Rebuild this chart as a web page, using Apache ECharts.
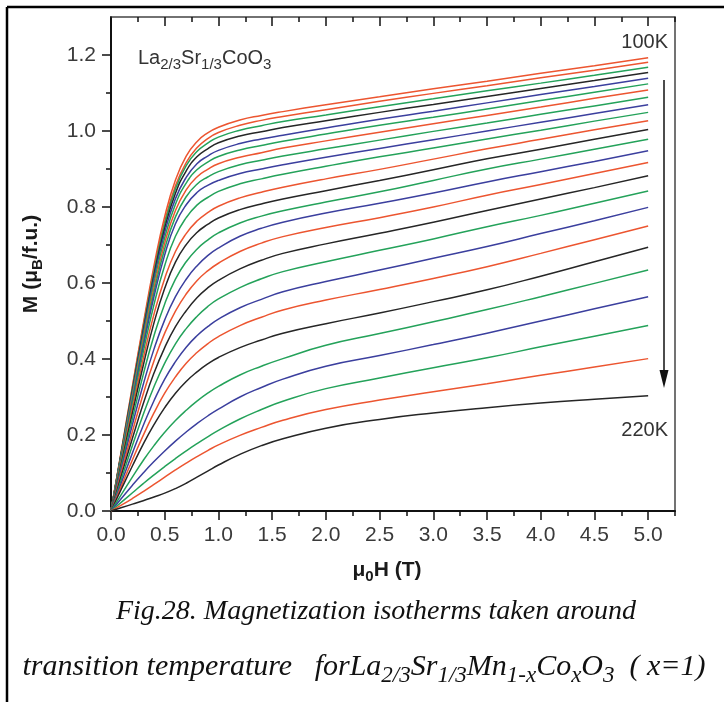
<!DOCTYPE html>
<html>
<head>
<meta charset="utf-8">
<script src="https://cdn.jsdelivr.net/npm/echarts@6/dist/echarts.min.js"></script>
<style>
  html, body { margin: 0; padding: 0; background: #ffffff; }
  #chart { width: 724px; height: 702px; }
</style>
</head>
<body>
<div id="chart"></div>
<script>
// Applied field mu0H (T) at which every isotherm is sampled
const fieldT = [0, 0.1, 0.2, 0.3, 0.4, 0.5, 0.6, 0.7, 0.8, 0.9, 1.0, 1.2, 1.4, 1.6, 2.0, 2.5, 3.0, 3.5, 4.0, 4.5, 5.0];

// Magnetization M (muB/f.u.) for each isotherm, 100 K to 220 K in 5 K steps
const m100K = [0, 0.165, 0.330, 0.492, 0.645, 0.775, 0.871, 0.934, 0.972, 0.995, 1.010, 1.029, 1.041, 1.051, 1.069, 1.090, 1.111, 1.131, 1.152, 1.172, 1.193];
const m105K = [0, 0.163, 0.326, 0.486, 0.635, 0.762, 0.856, 0.917, 0.956, 0.980, 0.996, 1.015, 1.028, 1.038, 1.056, 1.078, 1.099, 1.119, 1.140, 1.160, 1.181];
const m110K = [0, 0.161, 0.322, 0.480, 0.628, 0.755, 0.848, 0.909, 0.946, 0.968, 0.984, 1.002, 1.014, 1.025, 1.042, 1.064, 1.085, 1.106, 1.126, 1.147, 1.168];
const m115K = [0, 0.159, 0.318, 0.474, 0.620, 0.744, 0.836, 0.895, 0.932, 0.953, 0.969, 0.987, 0.998, 1.009, 1.027, 1.049, 1.070, 1.091, 1.112, 1.133, 1.154];
const m120K = [0, 0.157, 0.314, 0.468, 0.612, 0.733, 0.822, 0.878, 0.914, 0.934, 0.949, 0.967, 0.979, 0.989, 1.008, 1.031, 1.052, 1.074, 1.096, 1.117, 1.139];
const m125K = [0, 0.154, 0.308, 0.459, 0.600, 0.719, 0.807, 0.863, 0.898, 0.918, 0.933, 0.950, 0.962, 0.973, 0.992, 1.015, 1.036, 1.058, 1.080, 1.102, 1.124];
const m130K = [0, 0.151, 0.302, 0.450, 0.588, 0.705, 0.791, 0.845, 0.879, 0.899, 0.914, 0.931, 0.943, 0.955, 0.974, 0.997, 1.019, 1.041, 1.063, 1.086, 1.108];
const m135K = [0, 0.148, 0.296, 0.441, 0.576, 0.690, 0.774, 0.827, 0.860, 0.879, 0.893, 0.911, 0.923, 0.934, 0.953, 0.976, 0.999, 1.021, 1.044, 1.066, 1.089];
const m140K = [0, 0.145, 0.290, 0.432, 0.564, 0.674, 0.756, 0.806, 0.838, 0.857, 0.870, 0.888, 0.900, 0.911, 0.931, 0.954, 0.977, 1.000, 1.023, 1.046, 1.069];
const m145K = [0, 0.141, 0.281, 0.418, 0.543, 0.646, 0.723, 0.772, 0.805, 0.825, 0.841, 0.861, 0.874, 0.886, 0.907, 0.932, 0.955, 0.979, 1.002, 1.026, 1.049];
const m150K = [0, 0.136, 0.271, 0.401, 0.518, 0.612, 0.683, 0.730, 0.763, 0.785, 0.802, 0.824, 0.839, 0.852, 0.874, 0.899, 0.926, 0.953, 0.978, 1.003, 1.027];
const m155K = [0, 0.130, 0.259, 0.383, 0.495, 0.586, 0.655, 0.701, 0.733, 0.754, 0.771, 0.793, 0.808, 0.821, 0.843, 0.870, 0.898, 0.927, 0.952, 0.978, 1.004];
const m160K = [0, 0.123, 0.244, 0.359, 0.461, 0.545, 0.610, 0.656, 0.689, 0.713, 0.732, 0.758, 0.776, 0.790, 0.813, 0.840, 0.870, 0.900, 0.926, 0.952, 0.978];
const m165K = [0, 0.115, 0.228, 0.333, 0.426, 0.503, 0.564, 0.610, 0.645, 0.672, 0.692, 0.723, 0.744, 0.760, 0.784, 0.810, 0.837, 0.866, 0.893, 0.920, 0.948];
const m170K = [0, 0.106, 0.210, 0.308, 0.395, 0.468, 0.526, 0.571, 0.606, 0.632, 0.652, 0.683, 0.705, 0.722, 0.746, 0.772, 0.800, 0.831, 0.859, 0.888, 0.917];
const m175K = [0, 0.097, 0.192, 0.282, 0.363, 0.430, 0.485, 0.527, 0.561, 0.587, 0.607, 0.637, 0.660, 0.678, 0.703, 0.731, 0.760, 0.791, 0.821, 0.851, 0.882];
const m180K = [0, 0.087, 0.173, 0.254, 0.327, 0.389, 0.440, 0.480, 0.512, 0.538, 0.558, 0.588, 0.611, 0.630, 0.656, 0.686, 0.716, 0.748, 0.778, 0.810, 0.842];
const m185K = [0, 0.077, 0.153, 0.225, 0.290, 0.347, 0.393, 0.431, 0.461, 0.485, 0.505, 0.535, 0.557, 0.577, 0.604, 0.634, 0.665, 0.696, 0.730, 0.764, 0.799];
const m190K = [0, 0.068, 0.135, 0.199, 0.258, 0.310, 0.353, 0.389, 0.417, 0.440, 0.459, 0.488, 0.510, 0.529, 0.555, 0.583, 0.612, 0.643, 0.678, 0.714, 0.750];
const m195K = [0, 0.060, 0.119, 0.176, 0.227, 0.272, 0.310, 0.341, 0.366, 0.387, 0.404, 0.430, 0.450, 0.468, 0.493, 0.521, 0.551, 0.582, 0.618, 0.656, 0.694];
const m200K = [0, 0.045, 0.090, 0.133, 0.172, 0.207, 0.238, 0.265, 0.289, 0.310, 0.328, 0.358, 0.381, 0.401, 0.436, 0.467, 0.498, 0.530, 0.564, 0.599, 0.634];
const m205K = [0, 0.034, 0.068, 0.100, 0.130, 0.158, 0.184, 0.208, 0.230, 0.250, 0.268, 0.300, 0.325, 0.347, 0.381, 0.409, 0.438, 0.468, 0.500, 0.532, 0.564];
const m210K = [0, 0.024, 0.048, 0.072, 0.095, 0.117, 0.138, 0.158, 0.177, 0.195, 0.212, 0.242, 0.267, 0.289, 0.322, 0.350, 0.377, 0.403, 0.432, 0.460, 0.488];
const m215K = [0, 0.016, 0.033, 0.051, 0.070, 0.089, 0.108, 0.126, 0.143, 0.159, 0.174, 0.199, 0.220, 0.239, 0.267, 0.292, 0.314, 0.335, 0.357, 0.379, 0.401];
const m220K = [0, 0.009, 0.018, 0.027, 0.037, 0.047, 0.059, 0.073, 0.089, 0.105, 0.121, 0.149, 0.172, 0.190, 0.218, 0.241, 0.258, 0.272, 0.284, 0.294, 0.303];

const temperaturesK = [100, 105, 110, 115, 120, 125, 130, 135, 140, 145, 150, 155, 160,
                       165, 170, 175, 180, 185, 190, 195, 200, 205, 210, 215, 220];
const isotherms = [m100K, m105K, m110K, m115K, m120K, m125K, m130K, m135K, m140K, m145K,
                   m150K, m155K, m160K, m165K, m170K, m175K, m180K, m185K, m190K, m195K,
                   m200K, m205K, m210K, m215K, m220K];

// Axis ticks
const xMajorTicks = [0, 0.5, 1.0, 1.5, 2.0, 2.5, 3.0, 3.5, 4.0, 4.5, 5.0];
const xMinorTicks = [0.25, 0.75, 1.25, 1.75, 2.25, 2.75, 3.25, 3.75, 4.25, 4.75, 5.25];
const yMajorTicks = [0, 0.2, 0.4, 0.6, 0.8, 1.0, 1.2];
const yMinorTicks = [0.1, 0.3, 0.5, 0.7, 0.9, 1.1];

// Line colours cycle through red / green / black / blue
const RED = '#EC5530', GREEN = '#24A25A', BLUE = '#3B3F9E', BLACK = '#262626';
const curveColors = [RED, RED, GREEN, BLACK, BLUE, GREEN, RED, GREEN, BLUE, GREEN,
                     RED, BLACK, GREEN, BLUE, RED, BLACK, GREEN, BLUE, RED, BLACK,
                     GREEN, BLUE, GREEN, RED, BLACK];

const X_MAX = 5.25, Y_MAX = 1.3;
const SANS = 'Liberation Sans, Arial, sans-serif';
const SERIF = 'Liberation Serif, Times New Roman, serif';

function frameAxis(kind, position, opts) {
  const base = {
    type: 'value',
    position: position,
    min: 0,
    max: kind === 'x' ? X_MAX : Y_MAX,
    axisLine: { show: false, onZero: false },
    axisTick: { show: false },
    axisLabel: { show: false },
    splitLine: { show: false }
  };
  return Object.assign(base, opts);
}

const tickStyle = { color: '#111', width: 1.5 };
const nameRich = {
  b: { fontSize: 21, fontWeight: 'bold', color: '#1a1a1a', fontFamily: SANS, lineHeight: 28 },
  s: { fontSize: 15, fontWeight: 'bold', color: '#1a1a1a', fontFamily: SANS, lineHeight: 13, verticalAlign: 'bottom' }
};

const xAxes = [
  frameAxis('x', 'bottom', {
    axisLine: { show: true, onZero: false, lineStyle: { color: '#111', width: 2 } },
    axisTick: { show: true, customValues: xMajorTicks, length: 9, lineStyle: tickStyle },
    axisLabel: {
      show: true, customValues: xMajorTicks, formatter: v => v.toFixed(1),
      fontSize: 21, color: '#3a3a3a', fontFamily: SANS, margin: 14
    },
    name: '{b|μ}{s|0}{b|H (T)}',
    nameLocation: 'middle',
    nameGap: 45,
    nameTextStyle: { rich: nameRich, padding: [0, 12, 0, 0] }
  }),
  frameAxis('x', 'bottom', {
    axisTick: { show: true, customValues: xMinorTicks, length: 5, lineStyle: tickStyle }
  }),
  frameAxis('x', 'top', {
    axisLine: { show: true, onZero: false, lineStyle: { color: '#444', width: 1.5 } },
    axisTick: { show: true, inside: true, customValues: xMajorTicks, length: 9, lineStyle: tickStyle }
  }),
  frameAxis('x', 'top', {
    axisTick: { show: true, inside: true, customValues: xMinorTicks, length: 5, lineStyle: tickStyle }
  })
];

const yAxes = [
  frameAxis('y', 'left', {
    axisLine: { show: true, onZero: false, lineStyle: { color: '#111', width: 2 } },
    axisTick: { show: true, customValues: yMajorTicks, length: 9, lineStyle: tickStyle },
    axisLabel: {
      show: true, customValues: yMajorTicks, formatter: v => v.toFixed(1),
      fontSize: 21, color: '#3a3a3a', fontFamily: SANS, margin: 15
    },
    name: '{b|M (μ}{s|B}{b|/f.u.)}',
    nameLocation: 'middle',
    nameRotate: 90,
    nameGap: 66,
    nameTextStyle: { rich: nameRich }
  }),
  frameAxis('y', 'left', {
    axisTick: { show: true, customValues: yMinorTicks, length: 5, lineStyle: tickStyle }
  }),
  frameAxis('y', 'right', {
    axisLine: { show: true, onZero: false, lineStyle: { color: '#444', width: 1.5 } }
  })
];

const series = isotherms.map((values, i) => ({
  name: temperaturesK[i] + ' K',
  type: 'line',
  xAxisIndex: 0,
  yAxisIndex: 0,
  showSymbol: false,
  smooth: 0.5,
  animation: false,
  lineStyle: { color: curveColors[i], width: 1.5 },
  data: fieldT.map((h, j) => [h, values[j]])
}));

const subRich = (size, subSize, font, style, color) => ({
  n: { fontSize: size, fontFamily: font, fontStyle: style, fill: color, lineHeight: Math.round(size * 1.35) },
  s: { fontSize: subSize, fontFamily: font, fontStyle: style, fill: color,
       lineHeight: Math.round(size * 0.6), verticalAlign: 'bottom' }
});

const graphic = [
  // figure border (top and left edges)
  { type: 'line', shape: { x1: 7, y1: 7, x2: 724, y2: 7 }, style: { stroke: '#000', lineWidth: 2.5 } },
  { type: 'line', shape: { x1: 7, y1: 7, x2: 7, y2: 702 }, style: { stroke: '#000', lineWidth: 2.5 } },
  // compound label
  {
    type: 'text', x: 138, y: 45,
    style: {
      legacy: false,
      text: '{n|La}{s|2/3}{n|Sr}{s|1/3}{n|CoO}{s|3}',
      rich: subRich(20, 15, SANS, 'normal', '#333'),
      align: 'left', verticalAlign: 'top'
    }
  },
  // temperature range labels
  { type: 'text', x: 668, y: 42,
    style: { legacy: false, text: '100K', fontSize: 20, fontFamily: SANS, fill: '#333', align: 'right', verticalAlign: 'middle' } },
  { type: 'text', x: 668, y: 430,
    style: { legacy: false, text: '220K', fontSize: 20, fontFamily: SANS, fill: '#333', align: 'right', verticalAlign: 'middle' } },
  // arrow pointing towards higher temperature
  { type: 'line', shape: { x1: 664, y1: 80, x2: 664, y2: 376 }, style: { stroke: '#111', lineWidth: 1.5 } },
  { type: 'polygon', shape: { points: [[659.5, 370], [668.5, 370], [664, 388]] }, style: { fill: '#111' } },
  // caption
  {
    type: 'text', x: 376, y: 612,
    style: {
      legacy: false,
      text: 'Fig.28. Magnetization isotherms taken around',
      fontSize: 28, fontFamily: SERIF, fontStyle: 'italic', fill: '#111',
      align: 'center', verticalAlign: 'middle'
    }
  },
  {
    type: 'text', x: 364, y: 667,
    style: {
      legacy: false,
      text: '{n|transition temperature   forLa}{s|2/3}{n|Sr}{s|1/3}{n|Mn}{s|1-x}{n|Co}{s|x}{n|O}{s|3}{n|  ( x=1)}',
      rich: subRich(30, 23, SERIF, 'italic', '#111'),
      align: 'center', verticalAlign: 'middle'
    }
  }
];

const chart = echarts.init(document.getElementById('chart'), null, { renderer: 'canvas' });
chart.setOption({
  animation: false,
  backgroundColor: '#ffffff',
  grid: { left: 111, top: 17, width: 564, height: 494, containLabel: false },
  xAxis: xAxes,
  yAxis: yAxes,
  series: series,
  graphic: graphic
});
</script>
</body>
</html>
